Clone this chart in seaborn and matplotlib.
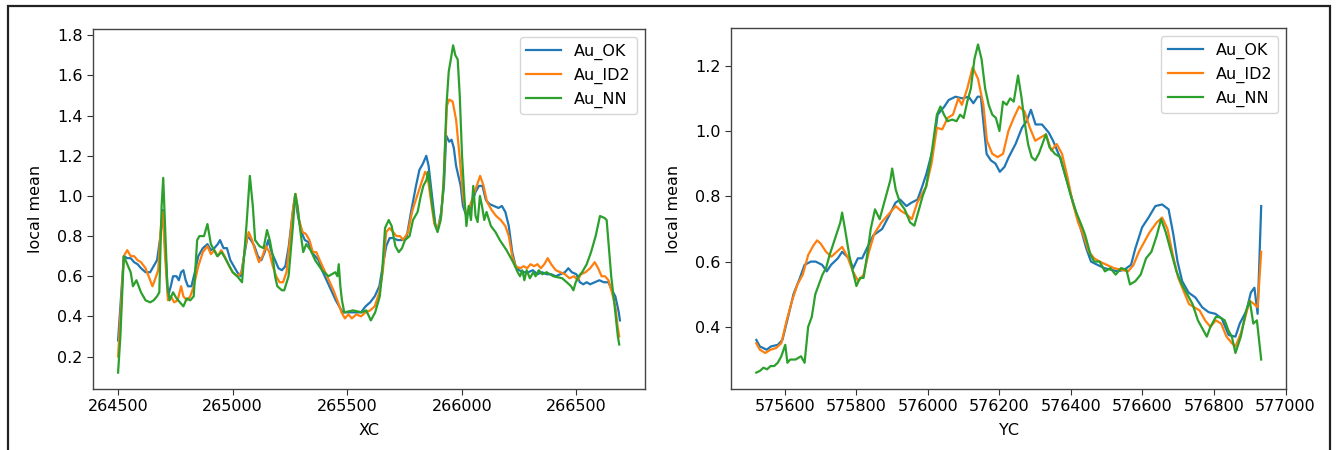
import matplotlib
matplotlib.use("Agg")
import matplotlib.pyplot as plt
from matplotlib.patches import Rectangle
import seaborn as sns

# ---- East-west swath (XC) ----
xc_ok = [264500, 264510, 264525, 264540, 264555, 264570, 264585, 264600, 264620, 264640,
         264655, 264670, 264685, 264695, 264705, 264718, 264730, 264740, 264755, 264765,
         264775, 264785, 264795, 264805, 264820, 264835, 264850, 264870, 264890, 264905,
         264920, 264935, 264945, 264960, 264975, 264990, 265005, 265020, 265035, 265050,
         265065, 265080, 265095, 265110, 265125, 265140, 265155, 265170, 265185, 265200,
         265215, 265230, 265245, 265260, 265272, 265285, 265300, 265315, 265330, 265345,
         265360, 265375, 265390, 265410, 265430, 265450, 265465, 265480, 265500, 265520,
         265540, 265560, 265580, 265600, 265620, 265640, 265655, 265670, 265685, 265700,
         265720, 265740, 265760, 265780, 265800, 265815, 265830, 265845, 265855, 265870,
         265885, 265895, 265910, 265922, 265932, 265945, 265955, 265965, 265975, 265985,
         265995, 266005, 266020, 266040, 266060, 266075, 266090, 266105, 266120, 266140,
         266160, 266175, 266190, 266205, 266220, 266235, 266250, 266270, 266290, 266310,
         266330, 266350, 266370, 266390, 266410, 266430, 266450, 266465, 266480, 266500,
         266515, 266530, 266545, 266560, 266580, 266600, 266620, 266640, 266655, 266670,
         266685, 266690]
au_ok_x = [0.28, 0.45, 0.70, 0.69, 0.69, 0.67, 0.66, 0.64, 0.62, 0.62,
           0.65, 0.68, 0.80, 0.93, 0.75, 0.50, 0.55, 0.60, 0.60, 0.58,
           0.62, 0.63, 0.58, 0.55, 0.55, 0.62, 0.70, 0.74, 0.76, 0.73,
           0.74, 0.76, 0.78, 0.74, 0.74, 0.68, 0.65, 0.62, 0.60, 0.70,
           0.80, 0.78, 0.75, 0.70, 0.68, 0.72, 0.78, 0.72, 0.68, 0.64,
           0.63, 0.65, 0.75, 0.90, 1.00, 0.90, 0.82, 0.78, 0.77, 0.72,
           0.70, 0.68, 0.63, 0.58, 0.53, 0.48, 0.45, 0.42, 0.42, 0.42,
           0.42, 0.42, 0.45, 0.47, 0.50, 0.55, 0.65, 0.75, 0.79, 0.79,
           0.78, 0.78, 0.80, 0.93, 1.05, 1.13, 1.16, 1.20, 1.15, 1.00,
           0.85, 0.83, 0.92, 1.05, 1.30, 1.27, 1.28, 1.24, 1.15, 1.10,
           1.05, 0.95, 0.90, 0.95, 1.02, 1.05, 1.05, 0.98, 0.96, 0.95,
           0.94, 0.95, 0.92, 0.85, 0.72, 0.65, 0.63, 0.62, 0.62, 0.63,
           0.61, 0.62, 0.61, 0.61, 0.60, 0.61, 0.62, 0.64, 0.62, 0.61,
           0.57, 0.56, 0.57, 0.56, 0.57, 0.58, 0.57, 0.57, 0.53, 0.50,
           0.42, 0.38]

xc_id2 = [264500, 264510, 264525, 264540, 264555, 264570, 264585, 264600, 264620, 264640,
          264650, 264660, 264675, 264687, 264695, 264705, 264718, 264730, 264745, 264760,
          264775, 264785, 264800, 264815, 264830, 264850, 264870, 264890, 264905, 264920,
          264935, 264950, 264965, 264985, 265000, 265020, 265040, 265055, 265070, 265085,
          265100, 265115, 265130, 265145, 265160, 265175, 265190, 265205, 265220, 265235,
          265250, 265265, 265275, 265290, 265305, 265320, 265335, 265350, 265365, 265380,
          265400, 265420, 265440, 265460, 265475, 265490, 265505, 265520, 265540, 265560,
          265580, 265600, 265620, 265640, 265655, 265670, 265685, 265700, 265715, 265730,
          265745, 265765, 265785, 265805, 265825, 265840, 265850, 265865, 265880, 265895,
          265910, 265922, 265935, 265945, 265960, 265975, 265990, 266005, 266020, 266035,
          266050, 266065, 266080, 266095, 266110, 266130, 266150, 266170, 266190, 266205,
          266220, 266235, 266255, 266270, 266285, 266300, 266315, 266330, 266345, 266360,
          266375, 266390, 266410, 266430, 266450, 266470, 266490, 266505, 266520, 266540,
          266560, 266580, 266595, 266610, 266625, 266640, 266655, 266670, 266680, 266687]
au_id2_x = [0.20, 0.40, 0.70, 0.73, 0.70, 0.70, 0.68, 0.67, 0.64, 0.58,
            0.55, 0.58, 0.63, 0.85, 0.92, 0.70, 0.48, 0.50, 0.47, 0.48,
            0.55, 0.50, 0.48, 0.50, 0.55, 0.65, 0.72, 0.75, 0.71, 0.73,
            0.70, 0.73, 0.70, 0.65, 0.62, 0.60, 0.62, 0.75, 0.82, 0.78,
            0.72, 0.67, 0.70, 0.75, 0.72, 0.65, 0.60, 0.57, 0.57, 0.62,
            0.78, 0.95, 1.01, 0.88, 0.82, 0.81, 0.78, 0.72, 0.72, 0.68,
            0.63, 0.58, 0.53, 0.47, 0.42, 0.39, 0.41, 0.39, 0.41, 0.40,
            0.42, 0.43, 0.45, 0.52, 0.62, 0.82, 0.84, 0.82, 0.80, 0.80,
            0.78, 0.82, 0.93, 1.00, 1.07, 1.12, 1.10, 0.98, 0.86, 0.84,
            0.90, 1.10, 1.45, 1.48, 1.47, 1.38, 1.20, 1.00, 0.90, 0.95,
            1.00, 1.05, 1.10, 1.05, 0.97, 0.93, 0.90, 0.88, 0.85, 0.80,
            0.70, 0.65, 0.64, 0.65, 0.64, 0.66, 0.65, 0.66, 0.64, 0.66,
            0.69, 0.66, 0.63, 0.62, 0.61, 0.59, 0.60, 0.58, 0.61, 0.62,
            0.64, 0.67, 0.64, 0.60, 0.60, 0.58, 0.52, 0.45, 0.35, 0.30]

xc_nn = [264500, 264510, 264525, 264540, 264555, 264565, 264580, 264600, 264620, 264640,
         264655, 264670, 264680, 264690, 264697, 264705, 264715, 264725, 264740, 264755,
         264770, 264785, 264800, 264815, 264830, 264845, 264855, 264875, 264890, 264905,
         264933, 264952, 264972, 265000, 265020, 265041, 265060, 265075, 265088, 265098,
         265117, 265135, 265150, 265162, 265175, 265185, 265195, 265215, 265225, 265244,
         265263, 265273, 265283, 265296, 265308, 265321, 265340, 265360, 265390, 265418,
         265448, 265457, 265463, 265470, 265477, 265487, 265525, 265564, 265583, 265603,
         265622, 265642, 265651, 265665, 265681, 265694, 265710, 265725, 265739, 265752,
         265772, 265787, 265807, 265821, 265832, 265846, 265852, 265861, 265871, 265885,
         265894, 265908, 265920, 265933, 265943, 265952, 265962, 265972, 265982, 265991,
         266001, 266011, 266020, 266030, 266040, 266050, 266060, 266069, 266079, 266088,
         266098, 266108, 266127, 266147, 266166, 266195, 266224, 266244, 266254, 266264,
         266273, 266283, 266297, 266312, 266322, 266336, 266351, 266370, 266399, 266438,
         266458, 266477, 266487, 266497, 266510, 266525, 266545, 266564, 266584, 266603,
         266623, 266632, 266652, 266667, 266681, 266687]
au_nn_x = [0.12, 0.30, 0.70, 0.66, 0.62, 0.55, 0.58, 0.52, 0.48, 0.47,
           0.48, 0.50, 0.52, 0.95, 1.09, 0.85, 0.55, 0.48, 0.52, 0.49,
           0.47, 0.45, 0.49, 0.48, 0.50, 0.78, 0.80, 0.80, 0.86, 0.76,
           0.70, 0.72, 0.68, 0.62, 0.60, 0.57, 0.85, 1.10, 0.95, 0.78,
           0.75, 0.74, 0.83, 0.78, 0.70, 0.60, 0.55, 0.53, 0.53, 0.60,
           0.85, 1.01, 0.95, 0.82, 0.72, 0.76, 0.73, 0.68, 0.63, 0.60,
           0.62, 0.60, 0.66, 0.55, 0.48, 0.42, 0.43, 0.42, 0.43, 0.38,
           0.42, 0.50, 0.60, 0.84, 0.88, 0.85, 0.75, 0.72, 0.74, 0.78,
           0.80, 0.88, 0.92, 1.00, 1.05, 1.08, 1.12, 1.05, 0.95, 0.85,
           0.82, 0.88, 1.05, 1.45, 1.62, 1.68, 1.75, 1.70, 1.68, 1.50,
           1.20, 1.00, 0.85, 0.95, 0.88, 1.05, 0.90, 0.87, 1.00, 0.95,
           0.88, 0.92, 0.85, 0.82, 0.78, 0.73, 0.67, 0.62, 0.60, 0.63,
           0.58, 0.63, 0.59, 0.62, 0.60, 0.63, 0.61, 0.62, 0.60, 0.59,
           0.57, 0.55, 0.53, 0.57, 0.60, 0.62, 0.66, 0.72, 0.80, 0.90,
           0.89, 0.88, 0.60, 0.45, 0.30, 0.26]

# ---- North-south swath (YC) ----
yc_ok = [575520, 575530, 575549, 575561, 575580, 575593, 575611, 575624, 575642, 575655,
         575673, 575686, 575704, 575717, 575729, 575748, 575760, 575779, 575791, 575804,
         575816, 575829, 575847, 575872, 575891, 575909, 575922, 575940, 575953, 575971,
         575984, 575996, 576015, 576027, 576046, 576058, 576077, 576096, 576114, 576127,
         576139, 576148, 576164, 576176, 576189, 576201, 576214, 576226, 576245, 576263,
         576276, 576288, 576301, 576319, 576338, 576350, 576369, 576388, 576406, 576425,
         576443, 576456, 576474, 576493, 576512, 576530, 576549, 576568, 576580, 576599,
         576617, 576636, 576655, 576673, 576686, 576698, 576711, 576729, 576748, 576767,
         576785, 576804, 576822, 576841, 576860, 576872, 576891, 576903, 576913, 576922,
         576932]
au_ok_y = [0.36, 0.34, 0.33, 0.34, 0.345, 0.36, 0.44, 0.50, 0.55, 0.59,
           0.60, 0.60, 0.59, 0.57, 0.59, 0.61, 0.63, 0.61, 0.58, 0.61,
           0.61, 0.64, 0.68, 0.70, 0.74, 0.78, 0.79, 0.77, 0.78, 0.79,
           0.83, 0.87, 0.95, 1.05, 1.075, 1.095, 1.105, 1.10, 1.105, 1.085,
           1.105, 1.105, 0.93, 0.91, 0.90, 0.875, 0.89, 0.92, 0.96, 1.01,
           1.03, 1.065, 1.02, 1.02, 0.995, 0.97, 0.92, 0.85, 0.78, 0.71,
           0.64, 0.60, 0.59, 0.58, 0.575, 0.57, 0.575, 0.59, 0.64, 0.705,
           0.735, 0.77, 0.775, 0.76, 0.685, 0.60, 0.54, 0.505, 0.49, 0.46,
           0.445, 0.44, 0.425, 0.375, 0.37, 0.41, 0.45, 0.505, 0.52, 0.44,
           0.77]

yc_id2 = [575520, 575530, 575545, 575560, 575575, 575590, 575605, 575620, 575635, 575650,
          575665, 575680, 575690, 575700, 575715, 575730, 575745, 575760, 575775, 575790,
          575805, 575820, 575835, 575850, 575870, 575890, 575910, 575925, 575940, 575955,
          575970, 575985, 575995, 576010, 576025, 576040, 576055, 576070, 576085, 576095,
          576110, 576125, 576140, 576155, 576165, 576180, 576195, 576210, 576225, 576240,
          576255, 576270, 576285, 576300, 576315, 576330, 576345, 576360, 576375, 576390,
          576405, 576420, 576435, 576450, 576465, 576480, 576500, 576520, 576540, 576560,
          576575, 576590, 576605, 576620, 576640, 576655, 576670, 576685, 576700, 576715,
          576730, 576745, 576760, 576775, 576790, 576805, 576820, 576835, 576850, 576860,
          576875, 576890, 576900, 576912, 576922, 576932]
au_id2_y = [0.35, 0.33, 0.32, 0.33, 0.335, 0.35, 0.42, 0.48, 0.53, 0.56,
            0.62, 0.65, 0.665, 0.655, 0.63, 0.615, 0.63, 0.645, 0.615, 0.57,
            0.54, 0.56, 0.63, 0.685, 0.72, 0.745, 0.77, 0.755, 0.745, 0.73,
            0.78, 0.81, 0.83, 0.90, 1.01, 1.005, 1.04, 1.05, 1.10, 1.08,
            1.13, 1.195, 1.16, 1.08, 0.97, 0.93, 0.92, 0.93, 1.00, 1.04,
            1.075, 1.06, 1.01, 0.97, 0.98, 0.99, 0.94, 0.96, 0.93, 0.86,
            0.78, 0.72, 0.68, 0.63, 0.61, 0.60, 0.59, 0.58, 0.575, 0.57,
            0.59, 0.63, 0.66, 0.69, 0.72, 0.735, 0.70, 0.62, 0.55, 0.51,
            0.47, 0.46, 0.45, 0.42, 0.40, 0.42, 0.41, 0.37, 0.35, 0.34,
            0.38, 0.44, 0.48, 0.47, 0.46, 0.63]

yc_nn = [575520, 575530, 575540, 575550, 575560, 575570, 575580, 575590, 575601, 575607,
         575615, 575630, 575645, 575655, 575665, 575675, 575685, 575695, 575705, 575715,
         575725, 575740, 575755, 575760, 575768, 575780, 575790, 575800, 575810, 575820,
         575830, 575840, 575852, 575865, 575880, 575895, 575900, 575910, 575922, 575935,
         575950, 575962, 575975, 575985, 575995, 576010, 576025, 576035, 576045, 576055,
         576068, 576080, 576090, 576100, 576110, 576120, 576130, 576140, 576150, 576160,
         576170, 576180, 576190, 576200, 576210, 576220, 576230, 576240, 576252, 576262,
         576270, 576280, 576290, 576300, 576310, 576320, 576330, 576340, 576355, 576370,
         576385, 576400, 576415, 576430, 576440, 576455, 576465, 576480, 576495, 576510,
         576525, 576540, 576555, 576565, 576580, 576595, 576610, 576625, 576640, 576652,
         576665, 576680, 576695, 576710, 576725, 576740, 576755, 576770, 576780, 576790,
         576805, 576815, 576830, 576840, 576850, 576860, 576875, 576890, 576900, 576910,
         576920, 576932]
au_nn_y = [0.26, 0.265, 0.275, 0.27, 0.28, 0.28, 0.29, 0.31, 0.345, 0.29,
           0.30, 0.30, 0.31, 0.29, 0.40, 0.43, 0.50, 0.53, 0.56, 0.58,
           0.62, 0.67, 0.72, 0.75, 0.70, 0.62, 0.57, 0.525, 0.55, 0.55,
           0.62, 0.70, 0.76, 0.73, 0.79, 0.85, 0.885, 0.82, 0.78, 0.76,
           0.72, 0.71, 0.76, 0.80, 0.83, 0.93, 1.05, 1.075, 1.05, 1.03,
           1.035, 1.03, 1.05, 1.04, 1.09, 1.13, 1.22, 1.265, 1.22, 1.13,
           1.08, 1.05, 1.04, 1.00, 1.09, 1.08, 1.10, 1.09, 1.17, 1.10,
           1.03, 0.96, 0.92, 0.91, 0.93, 0.96, 0.99, 0.95, 0.93, 0.92,
           0.86, 0.80, 0.75, 0.71, 0.68, 0.62, 0.60, 0.60, 0.57, 0.58,
           0.56, 0.58, 0.575, 0.53, 0.54, 0.56, 0.61, 0.63, 0.68, 0.73,
           0.69, 0.63, 0.57, 0.53, 0.50, 0.47, 0.42, 0.39, 0.37, 0.40,
           0.43, 0.43, 0.42, 0.39, 0.37, 0.32, 0.37, 0.45, 0.48, 0.41,
           0.42, 0.30]

series_names = ["Au_OK", "Au_ID2", "Au_NN"]
palette = sns.color_palette("tab10", 3)

plt.rcParams["font.family"] = ["DejaVu Sans"]
plt.rcParams["font.size"] = 11.5

fig = plt.figure(figsize=(13.36, 4.5), dpi=100)
ax1 = fig.add_axes([0.0696, 0.1356, 0.4132, 0.8])
ax2 = fig.add_axes([0.5472, 0.1356, 0.4157, 0.802])

left_data = [(xc_ok, au_ok_x), (xc_id2, au_id2_x), (xc_nn, au_nn_x)]
right_data = [(yc_ok, au_ok_y), (yc_id2, au_id2_y), (yc_nn, au_nn_y)]

for ax, data, xlabel in [(ax1, left_data, "XC"), (ax2, right_data, "YC")]:
    for (xs, ys), name, col in zip(data, series_names, palette):
        sns.lineplot(x=xs, y=ys, ax=ax, label=name, color=col,
                     linewidth=1.6, estimator=None, sort=False)
    ax.set_xlabel(xlabel, fontsize=11.5, labelpad=6)
    ax.set_ylabel("local mean", fontsize=11.5, labelpad=10)
    ax.tick_params(labelsize=11.5, length=4, color="#333333")
    for sp in ax.spines.values():
        sp.set_color("#444444")
        sp.set_linewidth(1.0)
    ax.legend(loc="upper right", fontsize=11.5, handlelength=2.2, framealpha=0.8)
    ax.set_facecolor("white")

ax1.set_yticks([0.2, 0.4, 0.6, 0.8, 1.0, 1.2, 1.4, 1.6, 1.8])
ax1.set_xticks([264500, 265000, 265500, 266000, 266500])
ax2.set_yticks([0.4, 0.6, 0.8, 1.0, 1.2])
ax2.set_xticks([575600, 575800, 576000, 576200, 576400, 576600, 576800, 577000])

# Outer frame around the whole figure
fig.add_artist(Rectangle((8 / 1336, -0.05), 1322 / 1336, 1.05 - 6 / 450,
                         transform=fig.transFigure, fill=False,
                         edgecolor="#222222", linewidth=1.6))

fig.savefig("out.png", dpi=100, facecolor="white")
